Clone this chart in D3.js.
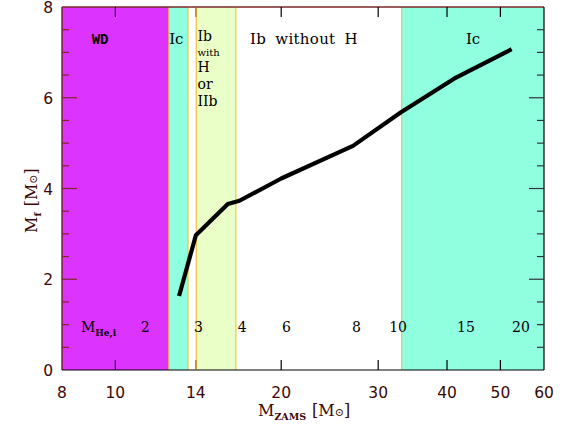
<!DOCTYPE html>
<html><head><meta charset="utf-8">
<script src="https://cdn.jsdelivr.net/npm/d3@7"></script>
<style>body{margin:0;background:#fff}svg{display:block}</style>
</head><body>
<svg id="c" width="570" height="429"></svg>
<script>
// data
const xTicks = [8, 10, 14, 20, 30, 40, 50, 60];
const yTicks = [0, 2, 4, 6, 8];
const yMinorTicks = [0.5,1,1.5,2.5,3,3.5,4.5,5,5.5,6.5,7,7.5];
const bandNames = ["WD", "Ic", "Ib/IIb", "Ib without H", "Ic"];
const bandStart = [8, 12.5, 14.02, 16.55, 33.1];
const bandEnd   = [12.5, 13.55, 16.55, 33.1, 60];
const bandColor = ["#dd33ff", "#8fffe0", "#eaffc8", "#ffffff", "#8fffe0"];
const lineMzams = [13.05, 14.0, 16.0, 16.8, 20, 27, 33, 41.2, 52.4];
const lineMf    = [1.63, 2.97, 3.66, 3.73, 4.22, 4.94, 5.68, 6.42, 7.07];
const heMzams = [11.33, 14.15, 17.0, 20.45, 27.4, 32.6, 43.3, 54.5];
const heLabels = ["2", "3", "4", "6", "8", "10", "15", "20"];

const svg = d3.select("#c");
const L = 62, R = 544, T = 7, B = 370;
const x = d3.scaleLog().domain([8, 60]).range([L, R]);
const y = d3.scaleLinear().domain([0, 8]).range([B, T]);
const maroon = "#7a2828", labCol = "#3a0808";

// bands
svg.selectAll("rect.band").data(bandStart).join("rect")
  .attr("x", (d) => x(d)).attr("y", T)
  .attr("width", (d, i) => x(bandEnd[i]) - x(d)).attr("height", B - T)
  .attr("fill", (d, i) => bandColor[i]);
// band edge lines
const edges = [12.5, 13.55, 14.02, 16.55, 33.1];
const edgeCol = ["#f0a040", "#f0c020", "#f0b020", "#f0c020", "#f0c020"];
svg.selectAll("line.edge").data(edges).join("line")
  .attr("x1", (d) => x(d)).attr("x2", (d) => x(d)).attr("y1", T).attr("y2", B)
  .attr("stroke", (d, i) => edgeCol[i]).attr("stroke-width", 1);

// frame
svg.append("line").attr("x1", L).attr("x2", R).attr("y1", T).attr("y2", T).attr("stroke", maroon).attr("stroke-width", 1.5);
svg.append("line").attr("x1", L).attr("x2", L).attr("y1", T).attr("y2", B).attr("stroke", maroon).attr("stroke-width", 1.5);
svg.append("line").attr("x1", L).attr("x2", R).attr("y1", B).attr("y2", B).attr("stroke", "#000").attr("stroke-width", 1.2);
svg.append("line").attr("x1", R).attr("x2", R).attr("y1", T).attr("y2", B).attr("stroke", "#000").attr("stroke-width", 1.2);

// x ticks (top/bottom)
const xt = xTicks.slice(1, -1);
svg.selectAll("line.xb").data(xt).join("line")
  .attr("x1", (d) => x(d)).attr("x2", (d) => x(d)).attr("y1", B).attr("y2", B - 10)
  .attr("stroke", (d) => d === 14 ? "#a06a20" : "#000").attr("stroke-width", 1.2);
svg.selectAll("line.xt").data(xt).join("line")
  .attr("x1", (d) => x(d)).attr("x2", (d) => x(d)).attr("y1", T).attr("y2", T + 10)
  .attr("stroke", (d) => d === 14 ? "#a06a20" : "#000").attr("stroke-width", 1.2);
// y ticks
const yMaj = yTicks.slice(1, -1);
[[L, 1], [R, -1]].forEach(([x0, s]) => {
  svg.selectAll(null).data(yMaj).join("line")
    .attr("x1", x0).attr("x2", x0 + s * 15).attr("y1", (d) => y(d)).attr("y2", (d) => y(d))
    .attr("stroke", s > 0 ? maroon : "#333").attr("stroke-width", 1.2);
  svg.selectAll(null).data(yMinorTicks).join("line")
    .attr("x1", x0).attr("x2", x0 + s * 7).attr("y1", (d) => y(d)).attr("y2", (d) => y(d))
    .attr("stroke", s > 0 ? maroon : "#333").attr("stroke-width", 1.2);
});

// tick labels
svg.selectAll("text.xl").data(xTicks).join("text")
  .attr("x", (d) => x(d)).attr("y", 398).attr("text-anchor", "middle")
  .attr("font-family", "DejaVu Sans").attr("font-size", 15.5).attr("fill", labCol)
  .text((d) => d);
svg.selectAll("text.yl").data(yTicks).join("text")
  .attr("x", 53).attr("y", (d) => y(d) + 6).attr("text-anchor", "end")
  .attr("font-family", "DejaVu Sans").attr("font-size", 15.5).attr("fill", labCol)
  .text((d) => d);

// data line
const line = d3.line().x((d, i) => x(lineMzams[i])).y((d) => y(d)).curve(d3.curveLinear);
svg.append("path").attr("d", line(lineMf)).attr("fill", "none")
  .attr("stroke", "#000").attr("stroke-width", 4.2).attr("stroke-linejoin", "round");

// band labels
const serif = "DejaVu Serif";
const lab = (tx, ty, s, size, anchor) => svg.append("text").attr("x", tx).attr("y", ty)
  .attr("font-family", serif).attr("font-size", size).attr("fill", "#000")
  .attr("text-anchor", anchor || "start").text(s);
lab(x(9.38), 44, bandNames[0], 14, "middle").attr("font-weight", "bold").attr("font-family", "Liberation Mono");
lab(x(12.9), 44, bandNames[1], 15, "middle");
lab(x(14.1), 41, "Ib", 14);
lab(x(14.1), 56, "with", 10);
lab(x(14.1), 72, "H", 14);
lab(x(14.1), 89, "or", 14);
lab(x(14.1), 106, "IIb", 14);
lab(x(22.0), 44, bandNames[3], 15, "middle").attr("word-spacing", 4).attr("letter-spacing", 0.3);
lab(x(44.6), 44, bandNames[4], 15, "middle");

// He core mass labels
const mh = svg.append("text").attr("x", 81).attr("y", 332).attr("font-family", serif).attr("font-size", 14).attr("fill", "#000");
mh.append("tspan").text("M");
mh.append("tspan").attr("dy", 4).attr("font-size", 9).attr("font-weight", "bold").text("He,i");
svg.selectAll("text.he").data(heLabels).join("text")
  .attr("x", (d, i) => x(heMzams[i])).attr("y", 332).attr("text-anchor", "middle")
  .attr("font-family", "DejaVu Serif").attr("font-size", 14).attr("fill", "#000")
  .text((d) => d);

// axis titles
const xtitle = svg.append("text").attr("x", 258).attr("y", 416).attr("font-family", serif).attr("font-size", 16).attr("fill", labCol);
xtitle.append("tspan").text("M");
xtitle.append("tspan").attr("dy", 4).attr("font-size", 9.5).attr("font-weight", "bold").text("ZAMS");
xtitle.append("tspan").attr("dy", -4).attr("dx", 6).text("[M");
xtitle.append("tspan").attr("font-size", 11).text("⊙");
xtitle.append("tspan").text("]");
const ytitle = svg.append("text").attr("transform", "translate(37,233) rotate(-90)").attr("font-family", serif).attr("font-size", 16).attr("fill", labCol);
ytitle.append("tspan").text("M");
ytitle.append("tspan").attr("dy", 4).attr("font-size", 10).attr("font-weight", "bold").text("f");
ytitle.append("tspan").attr("dy", -4).attr("dx", 6).text("[M");
ytitle.append("tspan").attr("font-size", 11).text("⊙");
ytitle.append("tspan").text("]");
</script>
</body></html>
